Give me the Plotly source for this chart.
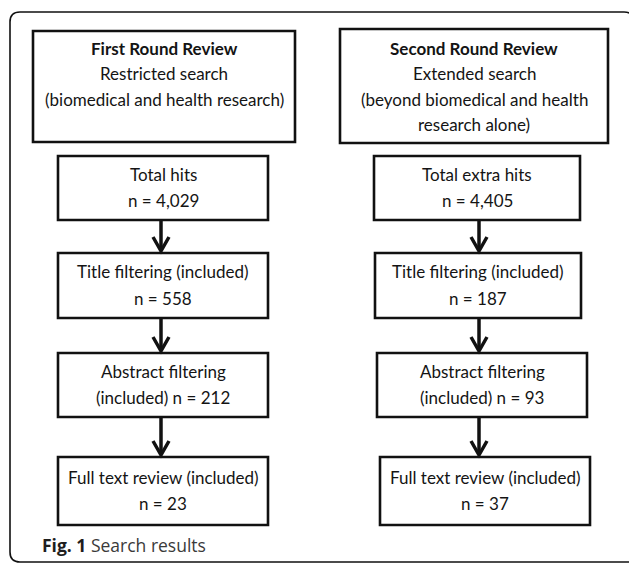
import plotly.graph_objects as go

W, H = 629, 563

# ---- data ----
round_titles = ["First Round Review", "Second Round Review"]
round_desc = [
    ["Restricted search", "(biomedical and health research)"],
    ["Extended search", "(beyond biomedical and health", "research alone)"],
]
stage_labels = [
    ["Total hits", "Title filtering (included)", "Abstract filtering", "Full text review (included)"],
    ["Total extra hits", "Title filtering (included)", "Abstract filtering", "Full text review (included)"],
]
first_counts = [4029, 558, 212, 23]
second_counts = [4405, 187, 93, 37]
caption_bold = "Fig. 1"
caption_text = "Search results"

# ---- layout constants ----
TXT = "#141414"
FONT = "Lato"
FS = 17
top_boxes = [(33, 31, 295, 142), (340, 29, 608, 143)]
stage_x = [
    [(58, 268), (58, 268), (58, 268), (58, 268)],
    [(374, 580), (375, 581), (377, 587), (380, 590)],
]
stage_y = [(156, 220), (253, 318), (353, 417), (457, 525)]
arrow_x = [161, 479]

fig = go.Figure()
shapes = []
annotations = []

# outer rounded frame
r = 10
frame = (f"M 634,{12+r} Q 634,12 {634-r},12 L {10+r},12 Q 10,12 10,{12+r} "
         f"L 10,{562-r} Q 10,562 {10+r},562 L 640,562")
shapes.append(dict(type="path", path=frame, line=dict(color="#111111", width=1.6),
                   xref="x", yref="y"))

def text(x, y, s, size=FS, bold=False, color=TXT, xanchor="center", family=FONT):
    annotations.append(dict(x=x, y=y, xref="x", yref="y", text=(f"<b>{s}</b>" if bold else s),
                            showarrow=False, xanchor=xanchor, yanchor="middle", align="center",
                            font=dict(family=family, size=size, color=color)))

counts = [first_counts, second_counts]
for c in range(2):
    x0, y0, x1, y1 = top_boxes[c]
    shapes.append(dict(type="rect", x0=x0, y0=y0, x1=x1, y1=y1,
                       line=dict(color="#111111", width=2.6), xref="x", yref="y"))
    cx = (x0 + x1) / 2
    lines = [round_titles[c]] + round_desc[c]
    for i, ln in enumerate(lines):
        text(cx, 48 + 25.5 * i, ln, bold=(i == 0))
    for s in range(4):
        sx0, sx1 = stage_x[c][s]
        sy0, sy1 = stage_y[s]
        shapes.append(dict(type="rect", x0=sx0, y0=sy0, x1=sx1, y1=sy1,
                           line=dict(color="#111111", width=2.6), xref="x", yref="y"))
        scx = (sx0 + sx1) / 2
        scy = (sy0 + sy1) / 2
        n = f"{counts[c][s]:,}"
        if s == 2:
            l1, l2 = stage_labels[c][s], f"(included) n = {n}"
        else:
            l1, l2 = stage_labels[c][s], f"n = {n}"
        text(scx, scy - 14, l1)
        text(scx, scy + 12.5, l2)
        if s < 3:
            ax = arrow_x[c]
            ya, yb = sy1 + 1, stage_y[s + 1][0] - 1
            shapes.append(dict(type="line", x0=ax, x1=ax, y0=ya, y1=yb - 2,
                               line=dict(color="#111111", width=3.5), xref="x", yref="y"))
            shapes.append(dict(type="path",
                               path=f"M {ax-8},{yb-15} L {ax},{yb-1} L {ax+8},{yb-15}",
                               line=dict(color="#111111", width=3.5), xref="x", yref="y"))

# caption
annotations.append(dict(x=40, y=545, xref="x", yref="y",
                        text=f"<b>{caption_bold}</b> <span style='color:#3a3a3a'>{caption_text}</span>",
                        showarrow=False, xanchor="left", yanchor="middle", align="left",
                        font=dict(family="Open Sans", size=17.5, color="#1e1e1e")))

fig.update_layout(
    width=W, height=H, margin=dict(l=0, r=0, t=0, b=0),
    paper_bgcolor="white", plot_bgcolor="white",
    xaxis=dict(range=[0, W], visible=False, fixedrange=True),
    yaxis=dict(range=[H, 0], visible=False, fixedrange=True),
    shapes=shapes, annotations=annotations, showlegend=False,
)
fig.write_html("out.html", config={"displayModeBar": False})

# remove default page margin so the figure sits at the window's corner
with open("out.html", "r", encoding="utf-8") as f:
    html = f.read()
html = html.replace("<body>", "<body style=\"margin:0;padding:0;overflow:hidden\">", 1)
with open("out.html", "w", encoding="utf-8") as f:
    f.write(html)
